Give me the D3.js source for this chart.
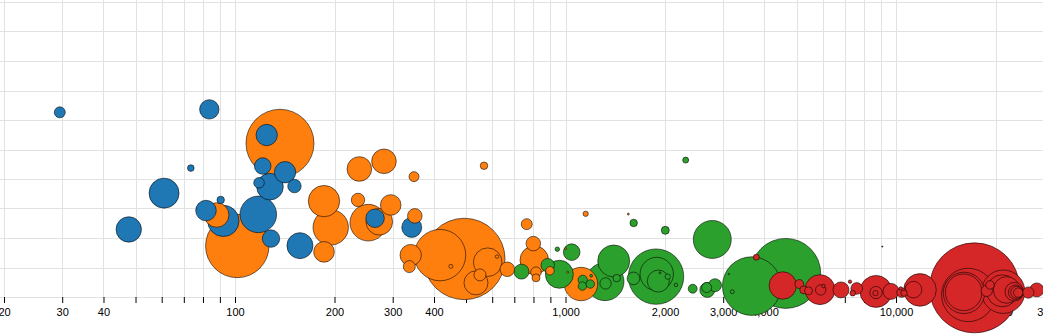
<!DOCTYPE html>
<html>
<head>
<meta charset="utf-8">
<script src="https://cdn.jsdelivr.net/npm/d3@7"></script>
<style>
  html, body { margin: 0; padding: 0; background: #fff; overflow: hidden; }
  svg { display: block; }
  .tick text { font-family: "Liberation Sans", Arial, sans-serif; font-size: 11px; fill: #000; }
</style>
</head>
<body>
<svg id="chart" width="1043" height="336"></svg>
<script>
// ---- data: [x value, y value, size value] ----
const groupNames = ["Group 1", "Group 2", "Group 3", "Group 4"];
const groupColors = ["#1f77b4", "#ff7f0e", "#2ca02c", "#d62728"];

const group1 = [
  [29.5, 6.26, 30], [83.6, 6.36, 94], [124.7, 5.49, 114], [121.3, 4.44, 69],
  [141.7, 4.23, 114], [127.6, 3.74, 177], [118.2, 3.87, 28], [151.3, 3.76, 45],
  [73.5, 4.37, 11], [61, 3.52, 225], [47.7, 2.29, 161], [90.5, 3.29, 14],
  [81.7, 2.93, 106], [92.2, 2.58, 246], [117.6, 2.80, 335], [128.5, 1.98, 76],
  [157.2, 1.74, 169], [265.3, 2.67, 86], [342.6, 2.36, 100]
];
const group2 = [
  [136.8, 5.21, 1156], [88.0, 2.78, 151], [101.6, 1.73, 1005], [237.8, 4.34, 151],
  [282.3, 4.60, 151], [348, 4.08, 25], [566.8, 4.45, 14], [185.9, 3.25, 246],
  [235.6, 3.29, 45], [295.9, 3.12, 106], [350, 2.75, 53], [194.8, 2.36, 313],
  [253.1, 2.52, 335], [273.3, 2.55, 177], [185.9, 1.53, 106], [494.1, 1.29, 1656],
  [417.2, 1.42, 660], [581.5, 1.18, 204], [536, 0.48, 144], [551, 0.75, 36],
  [340.1, 1.42, 114], [336.8, 1.03, 36], [450, 1.04, 4], [620.4, 1.37, 3],
  [666.5, 0.94, 53], [763.2, 2.47, 30], [799, 1.81, 53], [804.5, 1.25, 204],
  [814, 0.84, 28], [814, 0.65, 16], [897, 0.89, 18], [1001, 1.64, 1],
  [1015, 0.84, 1], [1113.9, 0.44, 279], [1150.7, 2.82, 7], [1549, 2.81, 1]
];
const group3 = [
  [735.9, 0.86, 56], [883.4, 1.08, 45], [958, 0.77, 196], [944.7, 1.62, 5],
  [1044, 1.52, 69], [1127.4, 0.58, 22], [1125, 0.37, 18], [1188.3, 0.44, 18],
  [1196, 0.72, 2], [1316.4, 0.52, 361], [1322, 0.46, 32], [1399, 1.22, 256],
  [1428.5, 0.64, 14], [1605.5, 0.63, 40], [1878.9, 0.69, 767], [1888, 0.78, 279],
  [1909, 0.54, 121], [2038, 0.69, 7], [1932, 0.82, 1], [2159, 0.41, 3],
  [1607.8, 2.51, 14], [2004, 2.26, 16], [2310, 4.64, 9], [2780, 1.95, 361],
  [2425.6, 0.28, 20], [2685.5, 0.24, 56], [2833, 0.40, 42], [2674, 0.32, 25],
  [3659.6, 0.37, 858], [4637.5, 0.80, 1225], [3196, 0.18, 4], [3122, 0.78, 0.5]
];
const group4 = [
  [3779, 1.35, 9], [4544, 0.39, 188], [5099, 0.44, 20], [5259, 0.24, 16],
  [5435, 0.21, 16], [5888, 0.25, 225], [5917, 0.24, 27], [6034, 0.37, 3],
  [6816, 0.24, 64], [7256, 0.52, 3], [7605, 0.29, 34], [7396, 0.13, 8],
  [9088, 1.71, 0.4], [8697, 0.19, 256], [8697, 0.15, 38], [8667, 0.13, 7],
  [9660, 0.19, 64], [10391, 0.15, 23], [10573, 0.13, 10], [10333, 0.29, 3],
  [11818, 0.24, 266], [11294, 0.25, 69], [17274, 0.31, 2025], [16543, 0.07, 713],
  [16056, 0.14, 428], [16022, 0.16, 335], [21107, 0.18, 471], [20960, 0.21, 256],
  [21618, 0.24, 177], [19252, 0.41, 18], [18815, 0.21, 32], [22797, 0.18, 86],
  [23018, 0.16, 53], [23177, 0.16, 36], [23436, 0.15, 22], [25139, 0.15, 32],
  [26655, 0.24, 49]
];
const groups = [group1, group2, group3, group4];

const xTickValues = [20, 30, 40, 50, 60, 70, 80, 90,
  100, 200, 300, 400, 500, 600, 700, 800, 900,
  1000, 2000, 3000, 4000, 5000, 6000, 7000, 8000, 9000,
  10000, 20000, 30000];
const xTickLabels = ["20", "30", "40", "", "", "", "", "",
  "100", "200", "300", "400", "", "", "", "", "",
  "1,000", "2,000", "3,000", "4,000", "", "", "", "", "",
  "10,000", "20,000", "30,000"];
const yTickValues = [0, 1, 2, 3, 4, 5, 6, 7, 8, 9, 10];

// ---- chart ----
const svg = d3.select("#chart");
const x = d3.scaleLog().domain([20, 30000]).range([4, 1053.7]);
const y = d3.scaleLinear().domain([0, 10]).range([297, 2]);
const r = d3.scaleSqrt().domain([0, 2025]).range([0, 45]);

// grid
const grid = svg.append("g");
grid.selectAll("line.h").data(yTickValues).join("line")
  .attr("class", "h")
  .attr("x1", 0).attr("x2", 1043)
  .attr("y1", d => Math.round(y(d)) + 0.5).attr("y2", d => Math.round(y(d)) + 0.5)
  .attr("stroke", "#e2e2e2").attr("stroke-width", 1);
grid.selectAll("line.v").data(xTickValues).join("line")
  .attr("class", "v")
  .attr("x1", d => Math.round(x(d)) + 0.5).attr("x2", d => Math.round(x(d)) + 0.5)
  .attr("y1", 0).attr("y2", y(0))
  .attr("stroke", "#e2e2e2").attr("stroke-width", 1);

// x axis
const xAxis = d3.axisBottom(x)
  .tickValues(xTickValues)
  .tickFormat((d, i) => xTickLabels[i])
  .tickSize(6)
  .tickPadding(5);
const gx = svg.append("g").attr("transform", `translate(0,${y(0)})`).call(xAxis);
gx.select(".domain").remove();
gx.selectAll(".tick line").attr("stroke", "#000");

// bubbles
const points = [];
groups.forEach((g, gi) => g.forEach(d => points.push({x: d[0], y: d[1], s: d[2], g: gi})));
points.sort((a, b) => b.s - a.s);

svg.append("g").selectAll("circle").data(points).join("circle")
  .attr("cx", d => x(d.x))
  .attr("cy", d => y(d.y))
  .attr("r", d => r(d.s))
  .attr("fill", d => groupColors[d.g])
  .attr("stroke", "#000")
  .attr("stroke-opacity", 0.7)
  .attr("stroke-width", 0.8);
</script>
</body>
</html>
